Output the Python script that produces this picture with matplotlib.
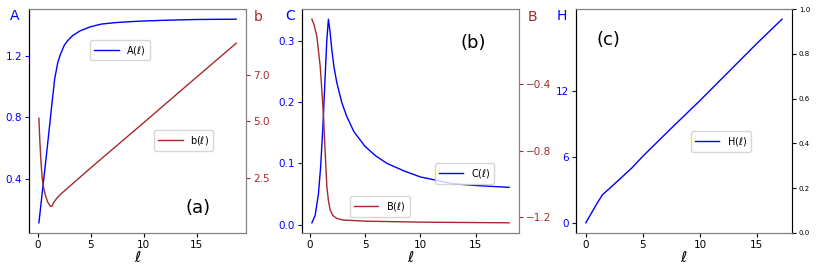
import matplotlib
matplotlib.use('Agg')
import matplotlib.pyplot as plt
import numpy as np

# panel (a)
l_A = [0.12, 0.5, 0.9, 1.3, 1.6, 1.9, 2.15, 2.5, 2.8, 3.3, 4.0, 5.0, 6.0, 7.4, 9.0, 10.0, 12.0, 15.0, 18.7]
A_vals = [0.112, 0.35, 0.60, 0.86, 1.05, 1.16, 1.213, 1.27, 1.30, 1.335, 1.366, 1.393, 1.41, 1.42, 1.427, 1.43, 1.435, 1.44, 1.442]
l_b = [0.12, 0.2, 0.3, 0.44, 0.6, 0.75, 0.95, 1.2, 1.35, 1.5, 1.8, 2.15, 5.0, 10.0, 15.0, 18.7]
b_vals = [5.12, 4.2, 3.3, 2.45, 2.0, 1.72, 1.45, 1.27, 1.27, 1.42, 1.62, 1.79, 2.95, 4.93, 6.93, 8.40]

# panel (b)
l_C = [0.21, 0.5, 0.8, 1.0, 1.2, 1.4, 1.55, 1.7, 1.85, 2.0, 2.2, 2.46, 2.9, 3.35, 4.0, 5.0, 6.0, 7.0, 8.5, 10.0, 12.9, 15.0, 18.0]
C_vals = [0.003, 0.015, 0.05, 0.095, 0.16, 0.24, 0.30, 0.336, 0.315, 0.287, 0.258, 0.232, 0.2, 0.177, 0.152, 0.128, 0.112, 0.1, 0.088, 0.078, 0.067, 0.064, 0.061]
l_B = [0.21, 0.4, 0.66, 0.96, 1.1, 1.26, 1.4, 1.56, 1.7, 1.86, 2.1, 2.46, 3.0, 5.0, 10.0, 18.0]
B_vals = [-0.008, -0.04, -0.113, -0.293, -0.43, -0.595, -0.80, -1.017, -1.10, -1.158, -1.19, -1.208, -1.217, -1.224, -1.23, -1.234]

# panel (c)
l_H = [0.0, 0.5, 1.0, 1.47, 2.0, 2.77, 4.0, 5.0, 7.5, 10.0, 12.5, 15.0, 17.2]
H_vals = [0.0, 0.9, 1.8, 2.57, 3.05, 3.78, 4.95, 6.05, 8.6, 11.1, 13.7, 16.3, 18.5]

blue = 'blue'
red = 'brown'
tfs = 7.5

fig = plt.figure(figsize=(8.3, 2.72), dpi=100)
pos = [[0.035, 0.1434, 0.2614, 0.8235],
       [0.3639, 0.1434, 0.2614, 0.8235],
       [0.694, 0.1434, 0.260, 0.8235]]


def style(ax, tw, right_black=False):
    for s in ['top', 'right', 'bottom']:
        ax.spines[s].set_color('gray')
        tw.spines[s].set_color('gray')
    ax.spines['left'].set_color('black')
    tw.spines['left'].set_color('black')
    if right_black:
        tw.spines['right'].set_color('black')
    ax.set_xlabel(r'$\ell$', fontsize=11, labelpad=0)
    ax.tick_params(axis='x', labelsize=tfs, length=3, pad=2)
    ax.tick_params(axis='y', labelsize=tfs, colors=blue, length=3, pad=2)
    ax.set_xticks([0, 5, 10, 15])


# (a)
ax1 = fig.add_axes(pos[0])
tw1 = ax1.twinx()
ax1.plot(l_A, A_vals, color=blue, lw=1.0, label=r'A($\ell$)')
tw1.plot(l_b, b_vals, color=red, lw=1.0, label=r'b($\ell$)')
ax1.set_yticks([0.4, 0.8, 1.2])
tw1.set_ylim(0.1, 9.9)
tw1.set_yticks([2.5, 5.0, 7.0])
tw1.tick_params(axis='y', labelsize=tfs, colors=red, length=3, pad=2)
style(ax1, tw1)
ax1.legend(loc='upper left', bbox_to_anchor=(0.26, 0.885), fontsize=7, handlelength=2.5)
tw1.legend(loc='upper left', bbox_to_anchor=(0.555, 0.48), fontsize=7, handlelength=2.5)
ax1.text(-0.065, 0.97, 'A', transform=ax1.transAxes, color=blue, fontsize=10, ha='center', va='center')
tw1.text(1.055, 0.965, 'b', transform=tw1.transAxes, color=red, fontsize=10, ha='center', va='center')
tw1.text(0.78, 0.11, '(a)', transform=tw1.transAxes, fontsize=13, ha='center', va='center')

# (b)
ax2 = fig.add_axes(pos[1])
tw2 = ax2.twinx()
ax2.plot(l_C, C_vals, color=blue, lw=1.0, label=r'C($\ell$)')
tw2.plot(l_B, B_vals, color=red, lw=1.0, label=r'B($\ell$)')
ax2.set_yticks([0.0, 0.1, 0.2, 0.3])
tw2.set_yticks([-0.4, -0.8, -1.2])
tw2.tick_params(axis='y', labelsize=tfs, colors=red, length=3, pad=2)
style(ax2, tw2)
ax2.legend(loc='upper left', bbox_to_anchor=(0.59, 0.335), fontsize=7, handlelength=2.5)
tw2.legend(loc='upper left', bbox_to_anchor=(0.2, 0.185), fontsize=7, handlelength=2.5)
ax2.text(-0.055, 0.97, 'C', transform=ax2.transAxes, color=blue, fontsize=10, ha='center', va='center')
tw2.text(1.06, 0.965, 'B', transform=tw2.transAxes, color=red, fontsize=10, ha='center', va='center')
tw2.text(0.79, 0.85, '(b)', transform=tw2.transAxes, fontsize=13, ha='center', va='center')

# (c)
ax3 = fig.add_axes(pos[2])
tw3 = ax3.twinx()
ax3.plot(l_H, H_vals, color=blue, lw=1.0, label=r'H($\ell$)')
ax3.set_yticks([0, 6, 12])
tw3.tick_params(axis='y', labelsize=5, length=3, pad=2)
style(ax3, tw3, right_black=True)
ax3.legend(loc='upper left', bbox_to_anchor=(0.51, 0.475), fontsize=7, handlelength=2.5)
ax3.text(-0.065, 0.97, 'H', transform=ax3.transAxes, color=blue, fontsize=10, ha='center', va='center')
ax3.text(0.15, 0.86, '(c)', transform=ax3.transAxes, fontsize=13, ha='center', va='center')

plt.savefig('out.png', dpi=100)
